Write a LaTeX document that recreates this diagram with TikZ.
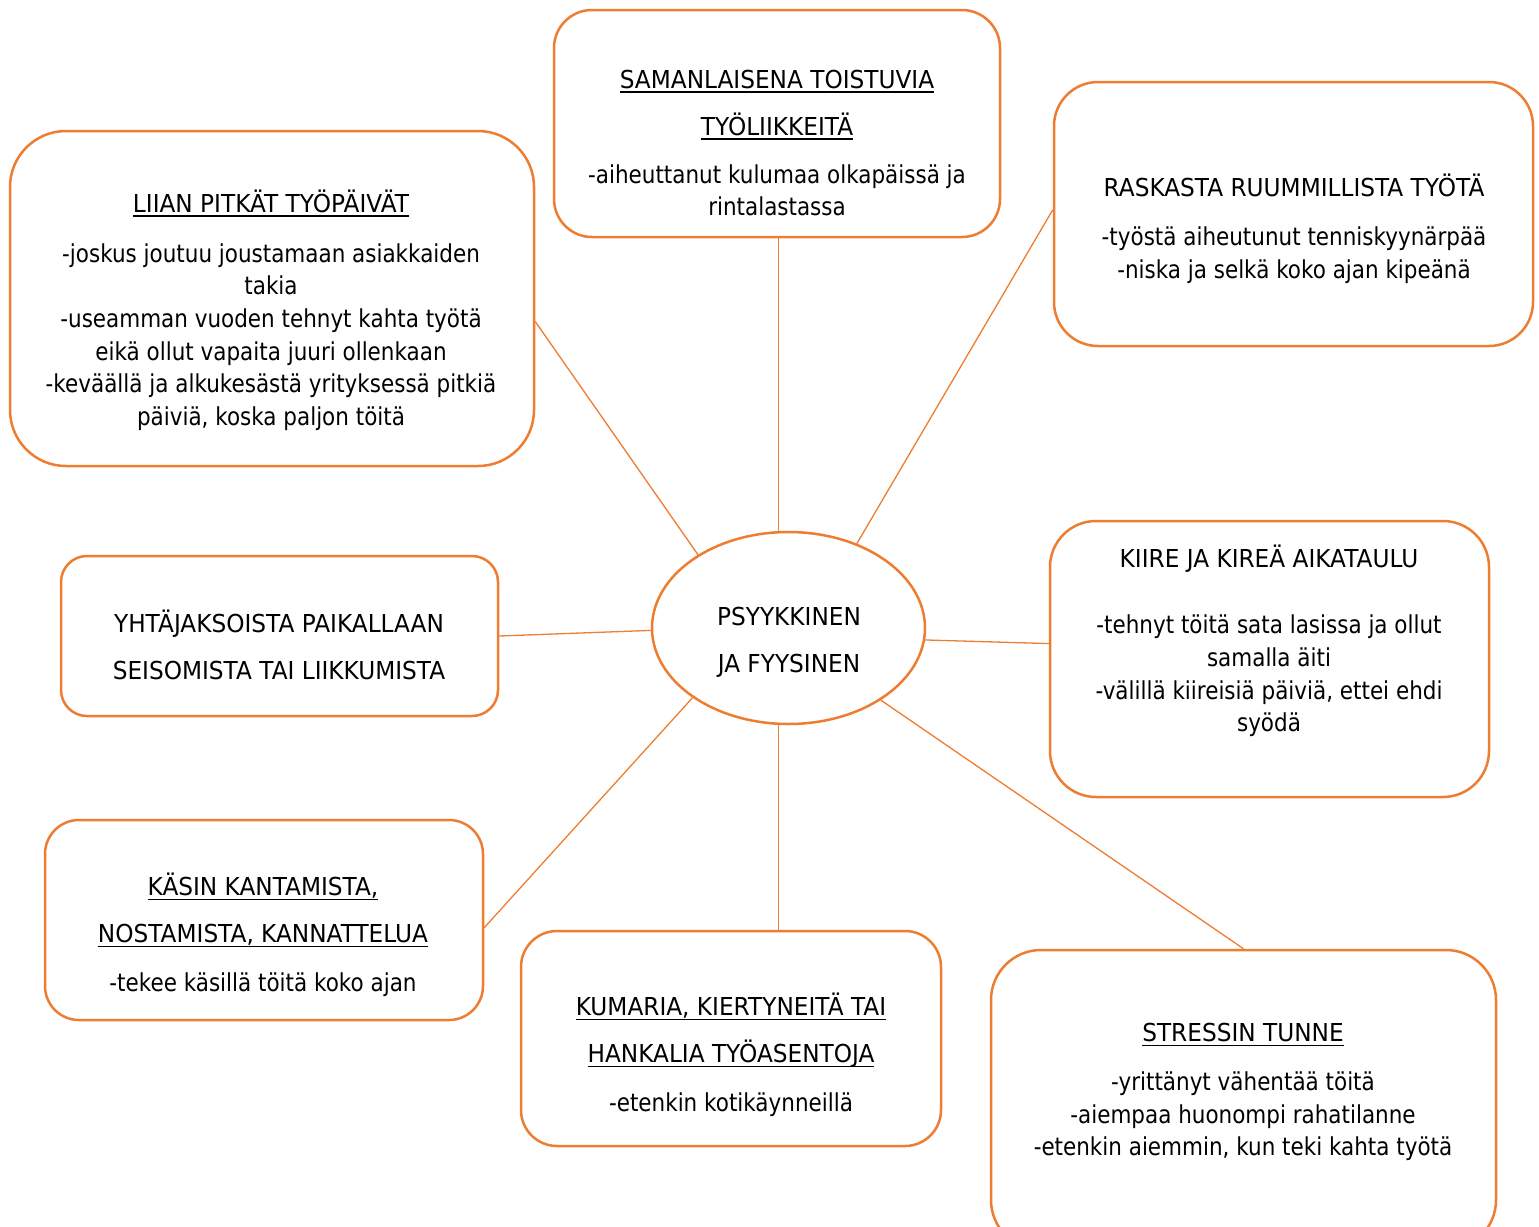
\documentclass[tikz,border=0pt]{standalone}
\usepackage{fontspec}
\setmainfont{DejaVu Sans}[FakeStretch=0.87]
\newfontfamily\isot{DejaVu Sans}[FakeStretch=0.94]
\usetikzlibrary{shapes.geometric}
\definecolor{kehys}{HTML}{ED7D31}
\newcommand{\alle}[1]{\setbox0\hbox{#1}\rlap{\rule[-2.2pt]{\wd0}{0.7pt}}\box0}

\begin{document}
\begin{tikzpicture}[x=0.5pt,y=-0.5pt]
\tikzstyle{laatikko}=[draw=kehys,line width=1.25pt,fill=white,inner sep=0pt]
\tikzstyle{teksti}=[align=center,inner sep=0pt,font=\fontsize{12.35}{16.3}\selectfont]
\tikzstyle{viiva}=[draw=kehys,line width=0.65pt]
\useasboundingbox (0,0) rectangle (1539,1227);

% keskella
\node[laatikko,ellipse,minimum width=136.5pt,minimum height=96pt] (psy) at (788.5,628) {};
\node[teksti] (psyt) at (789,642) {\isot PSYYKKINEN\\[7pt]\isot JA FYYSINEN};

% laatikot
\node[laatikko,rounded corners=19pt,minimum width=223pt,minimum height=113.5pt] (sam) at (777,123.5) {};
\node[teksti] (samt) at (777,143) {\alle{\isot SAMANLAISENA TOISTUVIA}\\[7.2pt]\alle{\isot TYÖLIIKKEITÄ}\\[7.6pt]-aiheuttanut kulumaa olkapäissä ja\\rintalastassa};

\node[laatikko,rounded corners=28pt,minimum width=262pt,minimum height=167.5pt] (liian) at (272,298.5) {};
\node[teksti] (liiant) at (271,310) {\alle{\isot LIIAN PITKÄT TYÖPÄIVÄT}\\[8.7pt]-joskus joutuu joustamaan asiakkaiden\\takia\\-useamman vuoden tehnyt kahta työtä\\eikä ollut vapaita juuri ollenkaan\\-keväällä ja alkukesästä yrityksessä pitkiä\\päiviä, koska paljon töitä};

\node[laatikko,rounded corners=22pt,minimum width=239.5pt,minimum height=132pt] (rask) at (1293.5,214) {};
\node[teksti] (raskt) at (1294,229) {{\isot RASKASTA RUUMMILLISTA TYÖTÄ}\\[8.2pt]-työstä aiheutunut tenniskyynärpää\\-niska ja selkä koko ajan kipeänä};

\node[laatikko,rounded corners=13pt,minimum width=218.5pt,minimum height=80pt] (yhta) at (279.5,636) {};
\node[teksti] (yhtat) at (279,645) {\isot YHTÄJAKSOISTA PAIKALLAAN\\[7pt]\isot SEISOMISTA TAI LIIKKUMISTA};

\node[laatikko,rounded corners=23pt,minimum width=219.5pt,minimum height=138pt] (kiire) at (1269.5,659) {};
\node[teksti] (kiiret) at (1269,641) {{\isot KIIRE JA KIREÄ AIKATAULU}\\[16.7pt]-tehnyt töitä sata lasissa ja ollut\\samalla äiti\\-välillä kiireisiä päiviä, ettei ehdi\\syödä};

\node[laatikko,rounded corners=17pt,minimum width=219pt,minimum height=100pt] (kasin) at (264,920) {};
\node[teksti] (kasint) at (263,935) {\alle{\isot KÄSIN KANTAMISTA,}\\[7pt]\alle{\isot NOSTAMISTA, KANNATTELUA}\\[8.2pt]-tekee käsillä töitä koko ajan};

\node[laatikko,rounded corners=18pt,minimum width=210pt,minimum height=107.5pt] (kum) at (731,1038.5) {};
\node[teksti] (kumt) at (731,1055) {\alle{\isot KUMARIA, KIERTYNEITÄ TAI}\\[7.2pt]\alle{\isot HANKALIA TYÖASENTOJA}\\[8.2pt]-etenkin kotikäynneillä};

\node[laatikko,rounded corners=25pt,minimum width=252.5pt,minimum height=150pt] (stres) at (1243.5,1100) {};
\node[teksti] (strest) at (1243,1092) {\alle{\isot STRESSIN TUNNE}\\[8.2pt]-yrittänyt vähentää töitä\\-aiempaa huonompi rahatilanne\\-etenkin aiemmin, kun teki kahta työtä};

% viivat
\draw[viiva] (psy.96) -- (psy.96 |- sam.south);
\draw[viiva] (psy.141) -- (liian.-5);
\draw[viiva] (psy.51) -- (rask.179);
\draw[viiva] (psy.181) -- (yhta.east);
\draw[viiva] (psy.-5) -- (kiire.176);
\draw[viiva] (psy.216) -- (kasin.-2);
\draw[viiva] (psy.264) -- (psy.264 |- kum.north);
\draw[viiva] (psy.-38) -- (stres.north);
\end{tikzpicture}
\end{document}
